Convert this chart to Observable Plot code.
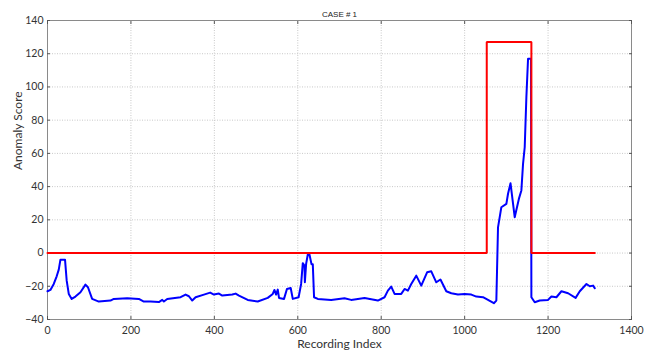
<!DOCTYPE html>
<html>
<head>
<meta charset="utf-8">
<script src="https://cdn.jsdelivr.net/npm/d3@7"></script>
<script src="https://cdn.jsdelivr.net/npm/@observablehq/plot@0.6"></script>
<style>
  html, body { margin: 0; padding: 0; background: #fff; }
  #chart { width: 647px; height: 355px; }
  svg { font-family: Lato, "Open Sans", sans-serif; }
</style>
</head>
<body>
<div id="chart"></div>
<script>
const title = "CASE # 1";
const xLabel = "Recording Index";
const yLabel = "Anomaly Score";
const xTicks = [0, 200, 400, 600, 800, 1000, 1200, 1400];
const yTicks = [-40, -20, 0, 20, 40, 60, 80, 100, 120, 140];

// Anomaly score (blue)
const scoreX = [0, 7, 15, 22, 27, 31, 42, 46, 51, 58, 67, 79, 91, 97, 107, 123, 151, 159, 191, 219, 231, 247, 267, 275, 279, 287, 319, 331, 339, 347, 355, 375, 390, 399, 411, 419, 443, 451, 459, 480, 504, 528, 540, 544, 548, 552, 555, 567, 574, 583, 588, 602, 608, 612, 616, 617, 620, 624, 628, 633, 636, 639, 648, 680, 712, 728, 760, 792, 808, 816, 824, 832, 848, 856, 864, 872, 884, 896, 910, 920, 932, 942, 956, 968, 984, 1000, 1016, 1028, 1044, 1056, 1070, 1076, 1080, 1088, 1100, 1104, 1110, 1120, 1130, 1136, 1140, 1144, 1148, 1152, 1159, 1160, 1168, 1180, 1200, 1208, 1220, 1232, 1248, 1266, 1276, 1292, 1300, 1308, 1312];
const scoreY = [-23, -22.2, -18.6, -14, -10, -4, -4, -16.6, -24.6, -27.6, -26.2, -23.6, -19, -20.6, -27.6, -29.2, -28.6, -27.6, -27.2, -27.6, -29.2, -29.2, -29.5, -28.2, -29.2, -27.7, -26.6, -25, -26, -28.6, -26.6, -25, -23.8, -25, -24.4, -25.6, -25, -24.4, -25.6, -28.2, -29.2, -27, -24.6, -22.2, -25, -22, -27, -27.6, -21.6, -21, -27.6, -26.6, -18.6, -6.1, -7.5, -17.6, -6.5, -0.9, -0.9, -6.8, -6.8, -26.6, -27.6, -28.2, -27.2, -28.2, -27, -28.6, -26.6, -22.6, -20.2, -24.6, -24.6, -21.6, -22.6, -18.6, -13.6, -19.6, -11.6, -11, -17.6, -15.9, -23, -24.2, -25, -24.6, -25, -26.2, -26.6, -28.2, -30.2, -28.6, 15.5, 27.6, 29.6, 35.7, 42, 21.6, 32.6, 37.7, 53.7, 63.7, 93.9, 117, 117, -26.6, -29.6, -28.6, -28.2, -26.2, -26.6, -23, -24.2, -27, -23, -18.6, -20, -19.6, -21.2];

// Ground truth anomaly window (red)
const truthX = [0, 1053, 1053, 1160, 1160, 1312];
const truthY = [0, 0, 127, 127, 0, 0];

const score = scoreX.map((x, i) => ({x, y: scoreY[i]}));
const truth = truthX.map((x, i) => ({x, y: truthY[i]}));

const tickColor = "#555";
const plot = Plot.plot({
  width: 647,
  height: 355,
  marginLeft: 47,
  marginRight: 16,
  marginTop: 20,
  marginBottom: 36,
  style: {fontFamily: "Lato, 'Open Sans', sans-serif", fontSize: "10px", color: "#333", background: "#fff"},
  x: {domain: [0, 1400], ticks: xTicks},
  y: {domain: [-40, 140], ticks: yTicks},
  marks: [
    Plot.gridX(xTicks, {stroke: "#c8c8c8", strokeOpacity: 1, strokeDasharray: "1,1.5"}),
    Plot.gridY(yTicks, {stroke: "#c8c8c8", strokeOpacity: 1, strokeDasharray: "1,1.5"}),
    Plot.frame({stroke: "#8a8a8a"}),
    Plot.axisX(xTicks, {anchor: "bottom", tickSize: 0, tickPadding: 7, label: null, tickFormat: d3.format("d"), fill: "#333", fontSize: 10.5}),
    Plot.axisX(xTicks, {anchor: "bottom", tickSize: -3, text: null, label: null, stroke: tickColor}),
    Plot.axisX(xTicks, {anchor: "top", tickSize: -3, text: null, label: null, stroke: tickColor}),
    Plot.axisY(yTicks, {anchor: "left", tickSize: 0, tickPadding: 4, label: null, fill: "#333", fontSize: 10.5}),
    Plot.axisY(yTicks, {anchor: "left", tickSize: -3, text: null, label: null, stroke: tickColor}),
    Plot.axisY(yTicks, {anchor: "right", tickSize: -3, text: null, label: null, stroke: tickColor}),
    Plot.line(score, {x: "x", y: "y", stroke: "#0000ff", strokeWidth: 2, strokeLinejoin: "round"}),
    Plot.line(truth, {x: "x", y: "y", stroke: "#ff0000", strokeWidth: 2, strokeLinejoin: "miter"}),
    Plot.text([title], {frameAnchor: "top", dy: -9, fontSize: 8, fill: "#222", fontFamily: "Liberation Sans, Arial, sans-serif"}),
    Plot.text([xLabel], {frameAnchor: "bottom", dy: 28, fontSize: 12, fill: "#333"}),
    Plot.text([yLabel], {frameAnchor: "left", dx: -29, rotate: -90, fontSize: 12, fill: "#333"})
  ]
});
document.getElementById("chart").appendChild(plot);
</script>
</body>
</html>
